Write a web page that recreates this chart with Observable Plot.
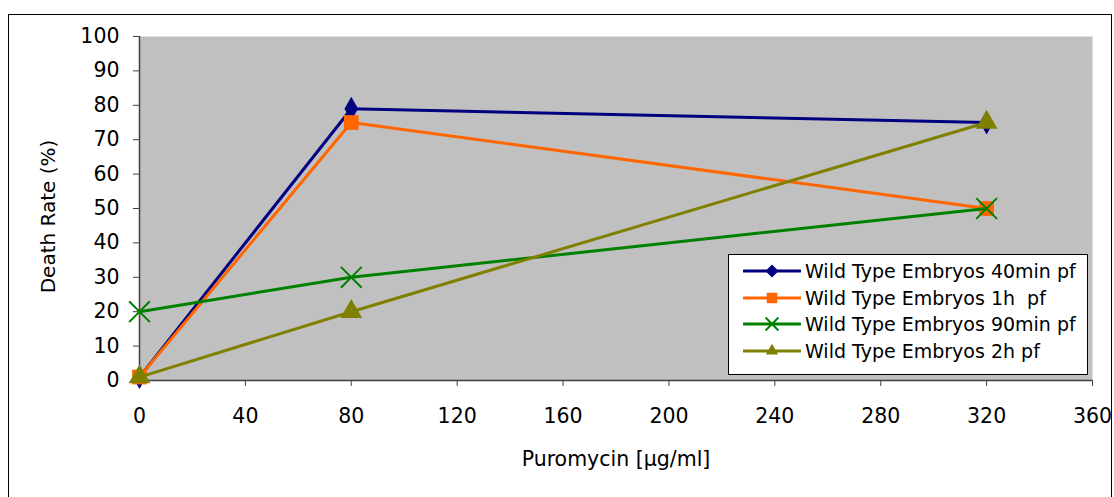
<!DOCTYPE html>
<html><head><meta charset="utf-8">
<script src="https://cdn.jsdelivr.net/npm/d3@7"></script>
<script src="https://cdn.jsdelivr.net/npm/@observablehq/plot@0.6"></script>
<style>
body{margin:0;background:#fff;font-family:"DejaVu Sans",sans-serif;}
#wrap{position:relative;width:1114px;height:497px;overflow:hidden}
#wrap svg{position:absolute;left:0;top:0}
#border{position:absolute;left:8px;top:14px;width:1104px;height:520px;border:1px solid #000;box-sizing:border-box;pointer-events:none}
#legend{position:absolute;left:728px;top:254px;width:360px;height:121px;background:#fff;border:1px solid #000;box-sizing:border-box;padding-top:3px}
.row{height:26.5px;display:flex;align-items:center;font-size:19px;color:#000;white-space:pre}
.row svg{position:static !important;margin-left:14px;margin-right:4px}
</style></head><body><div id="wrap"></div>
<script>
const doses = [0, 80, 320];
const seriesNames = ["Wild Type Embryos 40min pf", "Wild Type Embryos 1h  pf", "Wild Type Embryos 90min pf", "Wild Type Embryos 2h pf"];
const rate40min = [1, 79, 75];
const rate1h = [1, 75, 50];
const rate90min = [20, 30, 50];
const rate2h = [1, 20, 75];
const seriesColors = ["#000080", "#FF6600", "#008000", "#808000"];
const seriesSymbols = ["diamond", "square", "times", "triangle"];
const xTicks = [0, 40, 80, 120, 160, 200, 240, 280, 320, 360];
const yTicks = [0, 10, 20, 30, 40, 50, 60, 70, 80, 90, 100];
const xTitle = "Puromycin [µg/ml]";
const yTitle = "Death Rate (%)";

const allSeries = [rate40min, rate1h, rate90min, rate2h].map((vals, i) => ({
  name: seriesNames[i], color: seriesColors[i], symbol: seriesSymbols[i],
  rows: doses.map((d, j) => ({dose: d, rate: vals[j], series: seriesNames[i]}))
}));

const symR = {diamond: 7.2, square: 8.3, times: 9.5, triangle: 8.1};

const marks = [
  Plot.frame({fill: "#c0c0c0", stroke: null}),
  Plot.axisY({ticks: yTicks, tickSize: 6, tickPadding: 14, fontSize: 20.5, label: null, stroke: "#404040"}),
  Plot.axisX({ticks: xTicks, tickSize: 6, tickPadding: 22, fontSize: 20.5, label: null, stroke: "#404040"}),
  Plot.text([yTitle], {frameAnchor: "left", text: d => d, rotate: -90, dx: -91, dy: 8, fontSize: 20, textAnchor: "middle", fill: "#000"}),
  Plot.text([xTitle], {frameAnchor: "bottom", text: d => d, dy: 85, fontSize: 20.5, textAnchor: "middle", fill: "#000"}),
  Plot.ruleX([0], {stroke: "#404040", strokeWidth: 1.5}),
  Plot.ruleY([0], {stroke: "#404040", strokeWidth: 1.5})
];
for (const s of allSeries) {
  marks.push(Plot.line(s.rows, {x: "dose", y: "rate", stroke: s.color, strokeWidth: 3}));
  if (s.symbol === "times") {
    marks.push(Plot.dot(s.rows, {x: "dose", y: "rate", symbol: s.symbol, stroke: s.color, strokeWidth: 2, r: symR[s.symbol]}));
  } else {
    marks.push(Plot.dot(s.rows, {x: "dose", y: "rate", symbol: s.symbol, fill: s.color, stroke: null, r: symR[s.symbol]}));
  }
}

const chart = Plot.plot({
  width: 1114, height: 497,
  marginLeft: 139, marginRight: 22, marginTop: 36, marginBottom: 117,
  style: {fontFamily: "DejaVu Sans", fontSize: "20.5px", color: "#000", background: "transparent", overflow: "visible"},
  x: {domain: [0, 360]},
  y: {domain: [0, 100]},
  marks
});

const wrap = document.getElementById("wrap");
wrap.appendChild(chart);

// legend
const legend = document.createElement("div");
legend.id = "legend";
for (const s of allSeries) {
  const row = document.createElement("div");
  row.className = "row";
  const sw = d3.create("svg").attr("width", 58).attr("height", 20);
  sw.append("line").attr("x1", 1).attr("x2", 57).attr("y1", 10).attr("y2", 10).attr("stroke", s.color).attr("stroke-width", 3).attr("stroke-linecap", "round");
  const symMap = {diamond: d3.symbolDiamond2, square: d3.symbolSquare, times: d3.symbolTimes, triangle: d3.symbolTriangle2};
  const path = sw.append("path").attr("transform", "translate(29,10)").attr("d", d3.symbol(symMap[s.symbol], 110)());
  if (s.symbol === "times") path.attr("fill", "none").attr("stroke", s.color).attr("stroke-width", 2);
  else path.attr("fill", s.color);
  row.appendChild(sw.node());
  row.appendChild(document.createTextNode(s.name));
  legend.appendChild(row);
}
wrap.appendChild(legend);
const border = document.createElement("div");
border.id = "border";
wrap.appendChild(border);
</script>
</body></html>
